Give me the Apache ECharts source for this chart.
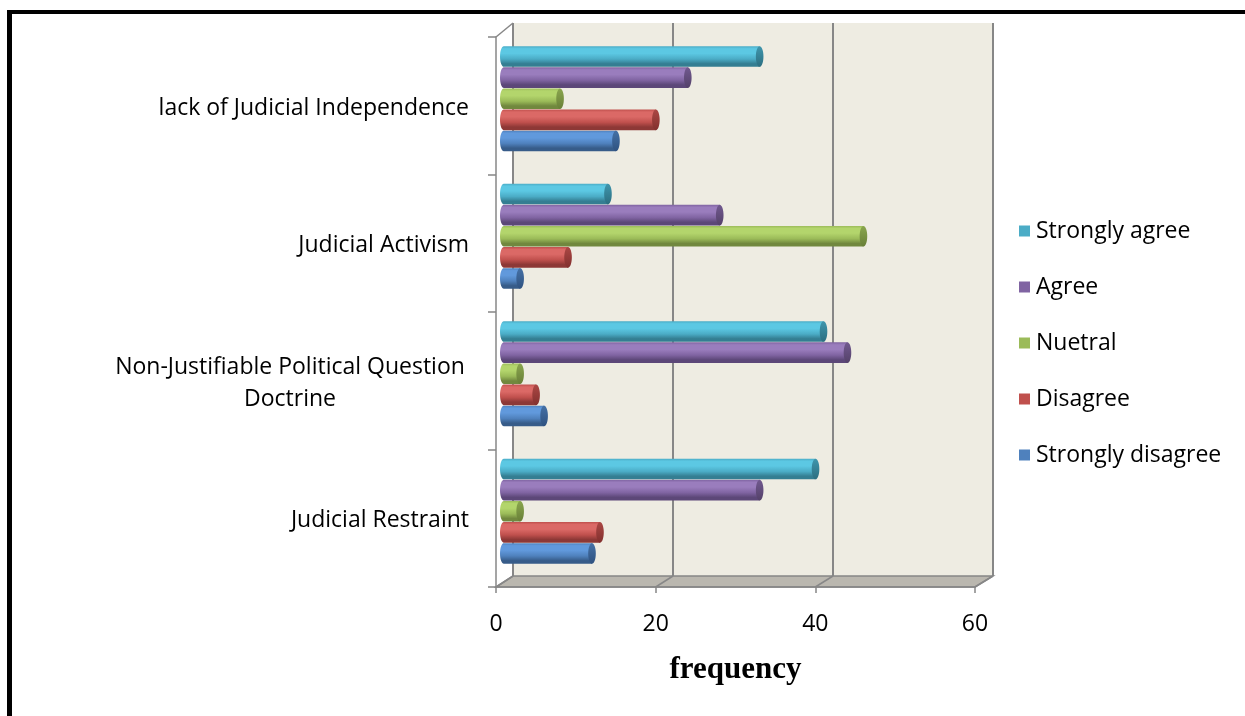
<!DOCTYPE html>
<html>
<head>
<meta charset="utf-8">
<title>frequency</title>
<script src="https://cdn.jsdelivr.net/npm/echarts@6/dist/echarts.min.js"></script>
<style>
  html, body { margin: 0; padding: 0; background: #fff; }
  body { width: 1245px; height: 716px; overflow: hidden; position: relative; }
  #chart { position: absolute; left: 0; top: 0; width: 1245px; height: 716px; }
  #frame {
    position: absolute; left: 7px; top: 10px; width: 1400px; height: 900px;
    border-left: 5px solid #000; border-top: 4px solid #000; box-sizing: border-box;
    pointer-events: none;
  }
</style>
</head>
<body>
<div id="chart"></div>
<div id="frame"></div>
<script>
// ---- data ----
const categories = [
  'Judicial Restraint',
  'Non-Justifiable Political Question\nDoctrine',
  'Judicial Activism',
  'lack of Judicial Independence'
];
const stronglyDisagree = [12, 6, 3, 15];
const disagree         = [13, 5, 9, 20];
const neutral          = [3, 3, 46, 8];
const agree            = [33, 44, 28, 24];
const stronglyAgree    = [40, 41, 14, 33];
const seriesNames = ['Strongly disagree', 'Disagree', 'Nuetral', 'Agree', 'Strongly agree'];
const legendOrder = ['Strongly agree', 'Agree', 'Nuetral', 'Disagree', 'Strongly disagree'];
const xMin = 0, xMax = 60, xStep = 20;
const axisTitle = 'frequency';

// ---- layout (front plane, back wall, and the mid-depth plane the bars sit on) ----
const FRONT = { left: 496, top: 37, width: 479, height: 550 };
const BACK  = { left: 513, top: 23, width: 480, height: 553 };
const MID   = { left: 500, top: 30, width: 479, height: 550 };

const LABEL_FONT = '"Open Sans", "DejaVu Sans", sans-serif';
const GRID_GRAY = '#878787';

// cylinder shading per series: [base, highlight, shade, capLight, capDark]
const palettes = [
  ['#4F81BD', '#6199DC', '#375C89', '#4571A6', '#2F5280'],
  ['#C0504D', '#DB6966', '#8D3836', '#AB4744', '#82302E'],
  ['#9BBB59', '#B3D56C', '#71883E', '#8AA64E', '#687F37'],
  ['#8064A2', '#9A7DBD', '#5C4778', '#71598F', '#544169'],
  ['#4BACC6', '#5CC8E3', '#347E92', '#3F96AD', '#2C6E80']
];
const seriesData = [stronglyDisagree, disagree, neutral, agree, stronglyAgree];

function ellipsePoints(cx, cy, rx, ry, a0, a1, n) {
  const pts = [];
  for (let i = 0; i <= n; i++) {
    const a = (a0 + (a1 - a0) * i / n) * Math.PI / 180;
    pts.push([cx + rx * Math.cos(a), cy + ry * Math.sin(a)]);
  }
  return pts;
}

function makeRender(idx) {
  const pal = palettes[idx];
  return function (params, api) {
    const v = api.value(0);
    const cat = api.value(1);
    const p0 = api.coord([0, cat]);
    const p1 = api.coord([v, cat]);
    const band = api.size([0, 1])[1];
    const pitch = band * 0.1535;
    const h = pitch * 0.975;
    const yc = p0[1] + (2 - idx) * pitch;
    const ry = h / 2;
    const x0 = p0[0], x1 = p1[0];
    const rx = Math.min(3.8, (x1 - x0) / 2);
    const yt = yc - ry, yb = yc + ry;

    const body = [[x1 - rx, yt], [x0 + rx, yt]]
      .concat(ellipsePoints(x0 + rx, yc, rx, ry, 270, 90, 16))
      .concat([[x1 - rx, yb]]);
    const cap = ellipsePoints(x1 - rx, yc, rx, ry, 0, 360, 32);

    return {
      type: 'group',
      children: [
        {
          type: 'polygon',
          shape: { points: body },
          style: {
            fill: new echarts.graphic.LinearGradient(0, 0, 0, 1, [
              { offset: 0, color: pal[0] },
              { offset: 0.12, color: pal[1] },
              { offset: 0.35, color: pal[1] },
              { offset: 0.62, color: pal[0] },
              { offset: 0.85, color: pal[2] },
              { offset: 1, color: pal[2] }
            ])
          }
        },
        {
          type: 'polygon',
          shape: { points: cap },
          style: {
            fill: new echarts.graphic.LinearGradient(0, 0, 0, 1, [
              { offset: 0, color: pal[3] },
              { offset: 1, color: pal[4] }
            ])
          }
        }
      ]
    };
  };
}

const chart = echarts.init(document.getElementById('chart'), null, { renderer: 'canvas' });

const option = {
  animation: false,
  backgroundColor: 'transparent',
  textStyle: { fontFamily: LABEL_FONT },
  legend: {
    data: legendOrder,
    orient: 'vertical',
    left: 1014,
    top: 213,
    icon: 'rect',
    itemWidth: 11,
    itemHeight: 11,
    itemGap: 30,
    selectedMode: false,
    textStyle: { fontFamily: LABEL_FONT, fontSize: 23, color: '#000', lineHeight: 26, padding: [0, 0, 0, 1] }
  },
  grid: [
    { left: BACK.left, top: BACK.top, width: BACK.width, height: BACK.height,
      show: true, backgroundColor: '#EEECE2', borderWidth: 0 },
    { left: FRONT.left, top: FRONT.top, width: FRONT.width, height: FRONT.height },
    { left: MID.left, top: MID.top, width: MID.width, height: MID.height }
  ],
  xAxis: [
    { gridIndex: 0, type: 'value', min: xMin, max: xMax, interval: xStep,
      axisLine: { show: false }, axisTick: { show: false }, axisLabel: { show: false },
      splitLine: { show: true, showMinLine: true, showMaxLine: true,
                   lineStyle: { color: GRID_GRAY, width: 2 } } },
    { gridIndex: 1, type: 'value', min: xMin, max: xMax, interval: xStep, z: 5,
      axisLine: { show: true, lineStyle: { color: GRID_GRAY, width: 1.5 } },
      axisTick: { show: true, length: 6, lineStyle: { color: GRID_GRAY, width: 1.5 } },
      axisLabel: { show: true, margin: 26, fontSize: 23, color: '#000', fontFamily: LABEL_FONT },
      splitLine: { show: false },
      name: axisTitle, nameLocation: 'middle', nameGap: 67,
      nameTextStyle: { fontFamily: '"Liberation Serif", "Times New Roman", serif',
                       fontWeight: 'bold', fontSize: 31, color: '#000' } },
    { gridIndex: 2, type: 'value', min: xMin, max: xMax, show: false }
  ],
  yAxis: [
    { gridIndex: 0, type: 'category', data: categories, show: false },
    { gridIndex: 1, type: 'category', data: categories, z: 5,
      axisLine: { show: true, lineStyle: { color: GRID_GRAY, width: 1.5 } },
      axisTick: { show: true, length: 8, lineStyle: { color: GRID_GRAY, width: 1.5 } },
      axisLabel: {
        margin: 27, fontSize: 23, color: '#000', fontFamily: LABEL_FONT,
        padding: [5, 0, 0, 0],
        formatter: function (val) {
          if (val.indexOf('\n') < 0) return val;
          return val.split('\n').map(function (s) { return '{c|' + s + '}'; }).join('\n');
        },
        rich: { c: { width: 358, align: 'center', lineHeight: 32, fontSize: 23,
                     fontFamily: LABEL_FONT, color: '#000' } }
      },
      splitLine: { show: false } },
    { gridIndex: 2, type: 'category', data: categories, show: false }
  ],
  series: seriesNames.map(function (name, i) {
    return {
      name: name,
      type: 'custom',
      xAxisIndex: 2,
      yAxisIndex: 2,
      z: 3,
      itemStyle: { color: palettes[i][0] },
      encode: { x: 0, y: 1 },
      data: seriesData[i].map(function (v, c) { return [v, c]; }),
      renderItem: makeRender(i)
    };
  })
};

chart.setOption(option);

// 3-D floor and side edge, placed from the axis scales
(function drawFrame() {
  const frontY = FRONT.top + FRONT.height;
  const backY = BACK.top + BACK.height;
  const xf = function (v) { return chart.convertToPixel({ xAxisIndex: 1 }, v); };
  const xb = function (v) { return chart.convertToPixel({ xAxisIndex: 0 }, v); };
  const elements = [
    {
      type: 'polygon', z: 1,
      shape: { points: [[xf(xMin), frontY], [xf(xMax), frontY], [xb(xMax), backY], [xb(xMin), backY]] },
      style: { fill: '#BAB7AF', stroke: GRID_GRAY, lineWidth: 1.5 }
    },
    {
      type: 'line', z: 1,
      shape: { x1: xf(xMin), y1: FRONT.top, x2: xb(xMin), y2: BACK.top },
      style: { stroke: GRID_GRAY, lineWidth: 1.5 }
    }
  ];
  for (let v = xMin; v <= xMax; v += xStep) {
    elements.push({
      type: 'line', z: 1,
      shape: { x1: xf(v), y1: frontY, x2: xb(v), y2: backY },
      style: { stroke: GRID_GRAY, lineWidth: 1.5 }
    });
  }
  chart.setOption({ graphic: { elements: elements } });
})();
</script>
</body>
</html>
